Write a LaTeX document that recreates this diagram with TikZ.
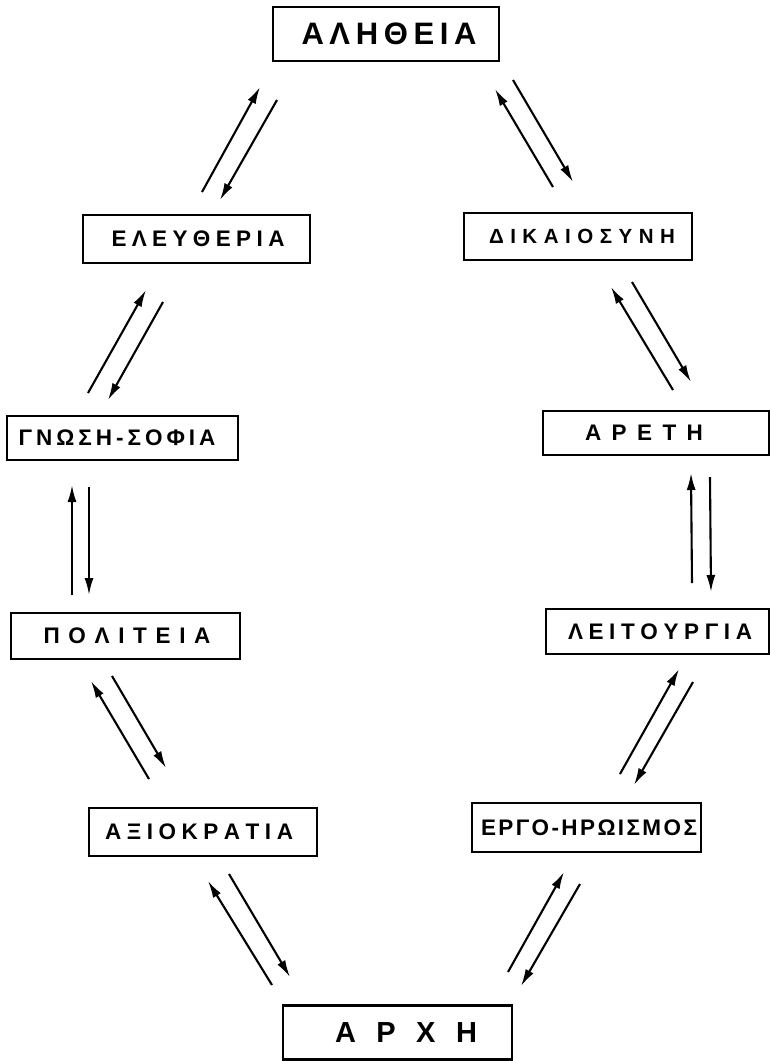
\documentclass[tikz,border=0pt]{standalone}
\usepackage{fontspec}
\setmainfont{Liberation Sans}
\usetikzlibrary{arrows.meta}
\def\sprd#1#2{\makebox[#1][s]{\sprdA#2\relax}}
\def\sprdA#1{#1\sprdB}
\def\sprdB#1{\ifx#1\relax\else\hfil#1\expandafter\sprdB\fi}
\def\lbltext#1#2#3{\ifdim#1pt<0pt \sprd{#2}{#3}\hspace*{-2\dimexpr#1pt\relax}\else\hspace*{2\dimexpr#1pt\relax}\sprd{#2}{#3}\fi}
\begin{document}
\begin{tikzpicture}[x=1pt,y=-1pt,
  box/.style={draw, line width=2.5pt, inner sep=0pt, minimum width=228pt,
    font=\bfseries\fontsize{22.5}{26}\selectfont},
  arr/.style={line width=2.1pt, -{Latex[length=17pt,width=9pt]}}]
\useasboundingbox (0,0) rectangle (770,1061);
% boxes
\node[box, minimum width=226pt, minimum height=54pt, font=\bfseries\fontsize{31}{34}\selectfont] (aletheia) at (386,34) {\lbltext{3}{175pt}{ΑΛΗΘΕΙΑ}};
\node[box, minimum width=227pt, minimum height=48pt] (eleutheria) at (196.5,239) {\lbltext{1.5}{173pt}{ΕΛΕΥΘΕΡΙΑ}};
\node[box, minimum width=228pt, minimum height=47pt, font=\bfseries\fontsize{20.5}{24}\selectfont] (dikaiosyne) at (578,236.5) {\lbltext{4}{186pt}{ΔΙΚΑΙΟΣΥΝΗ}};
\node[box, minimum width=231pt, minimum height=44pt] (gnosi) at (122.5,438) {\lbltext{-5.5}{197pt}{ΓΝΩΣΗ-ΣΟΦΙΑ}};
\node[box, minimum width=226pt, minimum height=44pt] (arete) at (656,433) {\lbltext{-12}{118pt}{ΑΡΕΤΗ}};
\node[box, minimum width=229pt, minimum height=46pt] (politeia) at (125.5,636) {\lbltext{1.5}{167pt}{ΠΟΛΙΤΕΙΑ}};
\node[box, minimum width=223pt, minimum height=45pt] (leitourgia) at (657.5,631.5) {\lbltext{2.5}{184pt}{ΛΕΙΤΟΥΡΓΙΑ}};
\node[box, minimum width=228pt, minimum height=48pt] (axiokratia) at (203,832) {\lbltext{-4}{188pt}{ΑΞΙΟΚΡΑΤΙΑ}};
\node[box, minimum width=229pt, minimum height=49pt] (ergo) at (586.5,827.5) {\lbltext{2.5}{216pt}{ΕΡΓΟ-ΗΡΩΙΣΜΟΣ}};
\node[box, minimum width=229pt, minimum height=54pt, font=\bfseries\fontsize{29}{32}\selectfont] (arche) at (397.5,1032.5) {\lbltext{8.5}{142pt}{ΑΡΧΗ}};
% arrow end points
\coordinate (a1) at (202,192); \coordinate (a2) at (260,87);
\coordinate (a3) at (277,100); \coordinate (a4) at (220,200);
\coordinate (b1) at (553,187); \coordinate (b2) at (495,89);
\coordinate (b3) at (513,80);  \coordinate (b4) at (573,182);
\coordinate (c1) at (88,393);  \coordinate (c2) at (146,290);
\coordinate (c3) at (163,302); \coordinate (c4) at (108,400);
\coordinate (d1) at (673,390); \coordinate (d2) at (611,287);
\coordinate (d3) at (632,282); \coordinate (d4) at (691,382);
\coordinate (e1) at (72,595);  \coordinate (e2) at (72,485);
\coordinate (e3) at (89,487);  \coordinate (e4) at (89,595);
\coordinate (f1) at (692,583); \coordinate (f2) at (691,473);
\coordinate (f3) at (710,477); \coordinate (f4) at (711,592);
\coordinate (g1) at (149,779); \coordinate (g2) at (91,681);
\coordinate (g3) at (112,676); \coordinate (g4) at (166,768);
\coordinate (h1) at (620,774); \coordinate (h2) at (679,669);
\coordinate (h3) at (693,682); \coordinate (h4) at (634,785);
\coordinate (i1) at (272,985); \coordinate (i2) at (208,881);
\coordinate (i3) at (229,874); \coordinate (i4) at (290,977);
\coordinate (j1) at (508,972); \coordinate (j2) at (564,872);
\coordinate (j3) at (580,884); \coordinate (j4) at (521,986);
% arrows
\foreach \p in {a,b,c,d,e,f,g,h,i,j}{
  \draw[arr] (\p1) -- (\p2);
  \draw[arr] (\p3) -- (\p4);
}
\end{tikzpicture}
\end{document}
